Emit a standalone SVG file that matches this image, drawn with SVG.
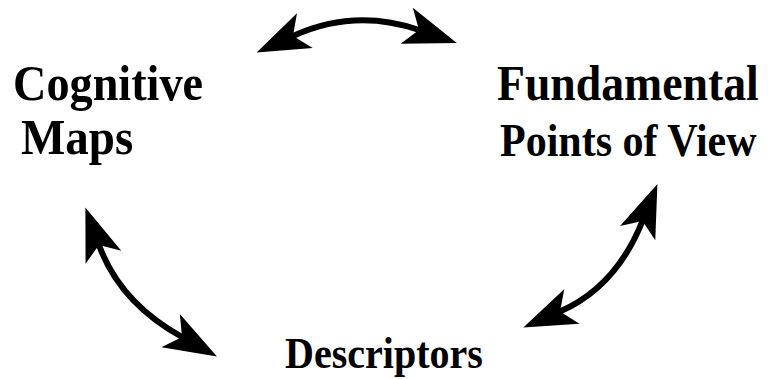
<svg xmlns="http://www.w3.org/2000/svg" width="770" height="379" viewBox="0 0 770 379">
  <style>
    .lbl { font-family: "Liberation Serif", "Times New Roman", serif; font-weight: bold; fill: #000; }
    .shaft { fill: none; stroke: #000; stroke-width: 6; stroke-linecap: round; }
  </style>
  <defs>
    <marker id="head" markerUnits="userSpaceOnUse" viewBox="0 -21 56 42" markerWidth="56" markerHeight="42" refX="13" refY="0" orient="auto-start-reverse" overflow="visible">
      <path d="M53,0 L0,-19 L13,0 L0,19 Z" fill="#000"/>
    </marker>
  </defs>
  <rect width="770" height="379" fill="#fff"/>
  <g id="cognitive-maps">
    <text class="lbl" transform="translate(13,100) scale(0.925,1)" font-size="50">Cognitive</text>
    <text class="lbl" transform="translate(21,154) scale(0.94,1)" font-size="50">Maps</text>
  </g>
  <g id="fundamental-points-of-view">
    <text class="lbl" transform="translate(497,100) scale(0.915,1)" font-size="50">Fundamental</text>
    <text class="lbl" transform="translate(500,156) scale(0.913,1)" font-size="46">Points of View</text>
  </g>
  <g id="descriptors">
    <text class="lbl" transform="translate(285,368) scale(0.91,1)" font-size="44">Descriptors</text>
  </g>
  <g id="connectors">
    <path class="shaft" d="M293,36 Q354.6,8 419,30" marker-start="url(#head)" marker-end="url(#head)"/>
    <path class="shaft" d="M99,245 Q119.8,302.5 182,337" marker-start="url(#head)" marker-end="url(#head)"/>
    <path class="shaft" d="M642.5,221 Q615.9,287.2 560,311.5" marker-start="url(#head)" marker-end="url(#head)"/>
  </g>
</svg>
